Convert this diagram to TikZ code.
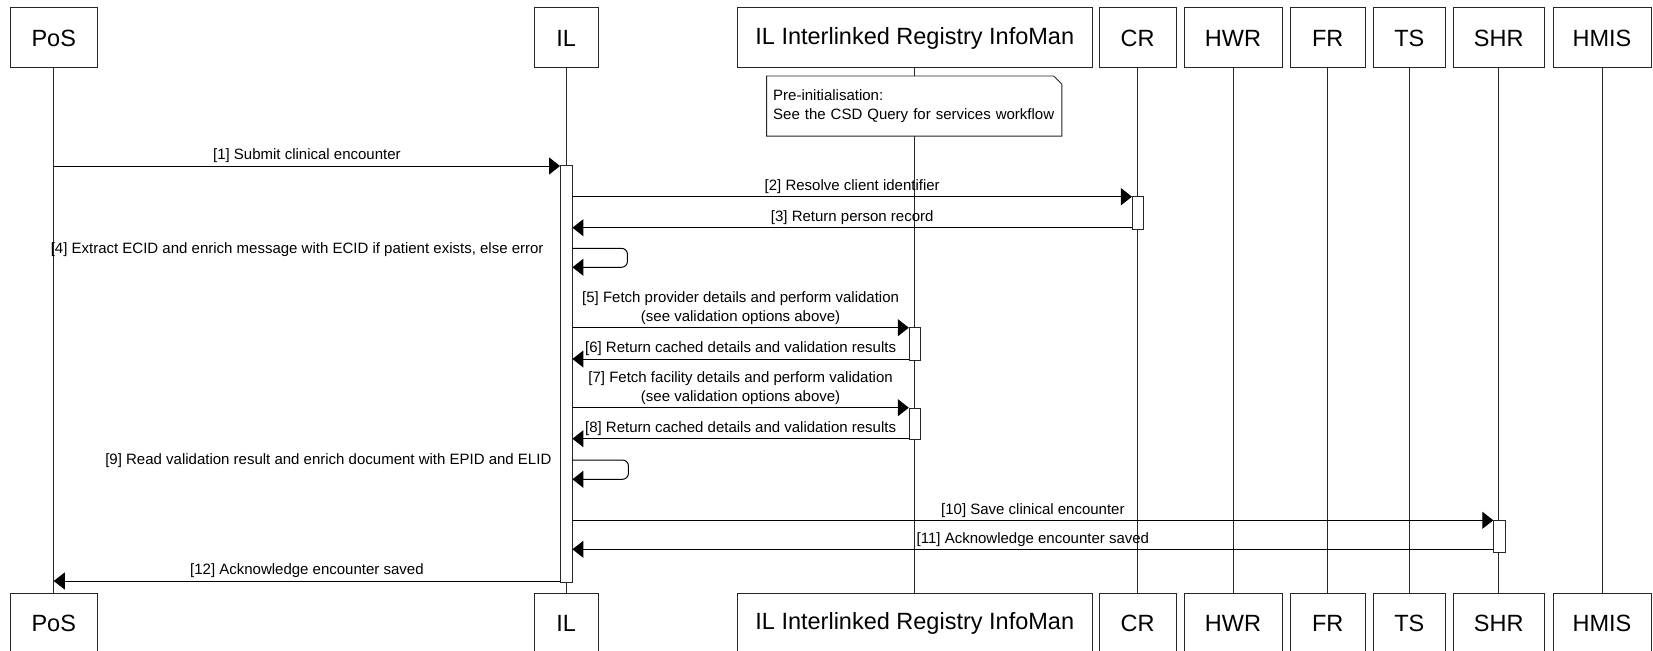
\documentclass[tikz,border=0pt]{standalone}
\usepackage{fontspec}
\setmainfont{Liberation Sans}
\usetikzlibrary{arrows.meta,calc}

\begin{document}
\begin{tikzpicture}[x=1pt,y=-1pt,
  actor/.style={draw=black!85, line width=1pt, fill=white, minimum height=60pt,
    inner sep=0pt, font=\fontsize{23.5}{27}\selectfont},
  life/.style={draw=black!85, line width=0.9pt},
  actbar/.style={draw=black!85, line width=0.9pt, fill=white, inner sep=0pt,
    minimum width=11.5pt},
  msg/.style={draw=black, line width=1pt, -{Triangle[length=11pt,width=17pt]}},
  lbl/.style={font=\fontsize{15}{19.3}\selectfont, inner sep=0pt, text depth=3pt,
    anchor=south, yshift=2.6pt, align=center},
  sidelbl/.style={font=\fontsize{15}{19.3}\selectfont, inner sep=0pt, anchor=base east},
  notebox/.style={fill=white, inner sep=0pt, inner xsep=6.4pt, anchor=north west,
    minimum width=293.4pt, minimum height=59.7pt, text width=282pt, align=left,
    font=\fontsize{15}{19}\selectfont},
]
\useasboundingbox (0,0) rectangle (1653,650);
\fill[white] (0,0) rectangle (1653,650);

% participants, top row
\node[actor, minimum width=87.5pt]  (posT) at (53.75,38)   {PoS};
\node[actor, minimum width=64.5pt]  (ilT)  at (566.25,38)  {IL};
\node[actor, minimum width=354.5pt] (imT)  at (914.75,38)  {IL Interlinked Registry InfoMan};
\node[actor, minimum width=77pt]    (crT)  at (1137.5,38)  {CR};
\node[actor, minimum width=98pt]    (hwrT) at (1233,38)    {HWR};
\node[actor, minimum width=75.5pt]  (frT)  at (1327.75,38) {FR};
\node[actor, minimum width=72.5pt]  (tsT)  at (1409.25,38) {TS};
\node[actor, minimum width=90.5pt]  (shrT) at (1498.75,38) {SHR};
\node[actor, minimum width=98pt]    (hmT)  at (1602,38)    {HMIS};

% participants, bottom row
\node[actor, minimum width=87.5pt]  (posB) at (53.75,623)   {PoS};
\node[actor, minimum width=64.5pt]  (ilB)  at (566.25,623)  {IL};
\node[actor, minimum width=354.5pt] (imB)  at (914.75,623)  {IL Interlinked Registry InfoMan};
\node[actor, minimum width=77pt]    (crB)  at (1137.5,623)  {CR};
\node[actor, minimum width=98pt]    (hwrB) at (1233,623)    {HWR};
\node[actor, minimum width=75.5pt]  (frB)  at (1327.75,623) {FR};
\node[actor, minimum width=72.5pt]  (tsB)  at (1409.25,623) {TS};
\node[actor, minimum width=90.5pt]  (shrB) at (1498.75,623) {SHR};
\node[actor, minimum width=98pt]    (hmB)  at (1602,623)    {HMIS};

% lifelines
\foreach \p in {pos,il,im,cr,hwr,fr,ts,shr,hm}
  \draw[life] (\p T) -- (\p B);

% note on the registry lifeline
\node[notebox] (note) at (766.6,76)
  {Pre-initialisation:\\See the CSD Query for services workflow};
\draw[black!85, line width=0.9pt] (note.north west) -- ($(note.north east)+(-8,0)$)
  -- ($(note.north east)+(0,8)$) -- (note.south east) -- (note.south west) -- cycle;

% activation bars
\node[actbar, minimum height=416.8pt] (ilBar)  at (566.25,373.9) {};
\node[actbar, minimum height=32.6pt]  (crBar)  at (1138.15,213)  {};
\node[actbar, minimum height=32.3pt]  (imBarA) at (915,343.85)   {};
\node[actbar, minimum height=31pt]    (imBarB) at (915,423.8)    {};
\node[actbar, minimum height=32.7pt]  (shrBar) at (1499.5,536.35) {};

% message levels
\coordinate (m1)  at (0,166);
\coordinate (m2)  at (0,196.7);
\coordinate (m3)  at (0,227.7);
\coordinate (m4a) at (0,248.3);
\coordinate (m4b) at (0,267.3);
\coordinate (m5)  at (0,327.7);
\coordinate (m6)  at (0,359);
\coordinate (m7)  at (0,407.7);
\coordinate (m8)  at (0,438.7);
\coordinate (m9a) at (0,460);
\coordinate (m9b) at (0,479.3);
\coordinate (m10) at (0,520.3);
\coordinate (m11) at (0,549.3);
\coordinate (m12) at (0,581);

% messages
\draw[msg] (posT.south |- m1) -- (ilBar.west |- m1)
  node[lbl, midway] {[1] Submit clinical encounter};
\draw[msg] (ilBar.east |- m2) -- (crBar.west |- m2)
  node[lbl, midway] {[2] Resolve client identifier};
\draw[msg] (crBar.west |- m3) -- (ilBar.east |- m3)
  node[lbl, midway] {[3] Return person record};

\draw[msg, rounded corners=6pt] (ilBar.east |- m4a) -- ($(ilBar.east |- m4a)+(55,0)$)
  -- ($(ilBar.east |- m4b)+(55,0)$) -- (ilBar.east |- m4b);
\node[sidelbl] (l4) at (543.7,253)
  {[4] Extract ECID and enrich message with ECID if patient exists, else error};

\draw[msg] (ilBar.east |- m5) -- (imBarA.west |- m5)
  node[lbl, midway] {[5] Fetch provider details and perform validation\\(see validation options above)};
\draw[msg] (imBarA.west |- m6) -- (ilBar.east |- m6)
  node[lbl, midway] {[6] Return cached details and validation results};
\draw[msg] (ilBar.east |- m7) -- (imBarB.west |- m7)
  node[lbl, midway] {[7] Fetch facility details and perform validation\\(see validation options above)};
\draw[msg] (imBarB.west |- m8) -- (ilBar.east |- m8)
  node[lbl, midway] {[8] Return cached details and validation results};

\draw[msg, rounded corners=6pt] (ilBar.east |- m9a) -- ($(ilBar.east |- m9a)+(56,0)$)
  -- ($(ilBar.east |- m9b)+(56,0)$) -- (ilBar.east |- m9b);
\node[sidelbl] (l9) at (551.6,464)
  {[9] Read validation result and enrich document with EPID and ELID};

\draw[msg] (ilBar.east |- m10) -- (shrBar.west |- m10)
  node[lbl, midway] {[10] Save clinical encounter};
\draw[msg] (shrBar.west |- m11) -- (ilBar.east |- m11)
  node[lbl, midway] {[11] Acknowledge encounter saved};
\draw[msg] (ilBar.west |- m12) -- (posT.south |- m12)
  node[lbl, midway] {[12] Acknowledge encounter saved};
\end{tikzpicture}
\end{document}
